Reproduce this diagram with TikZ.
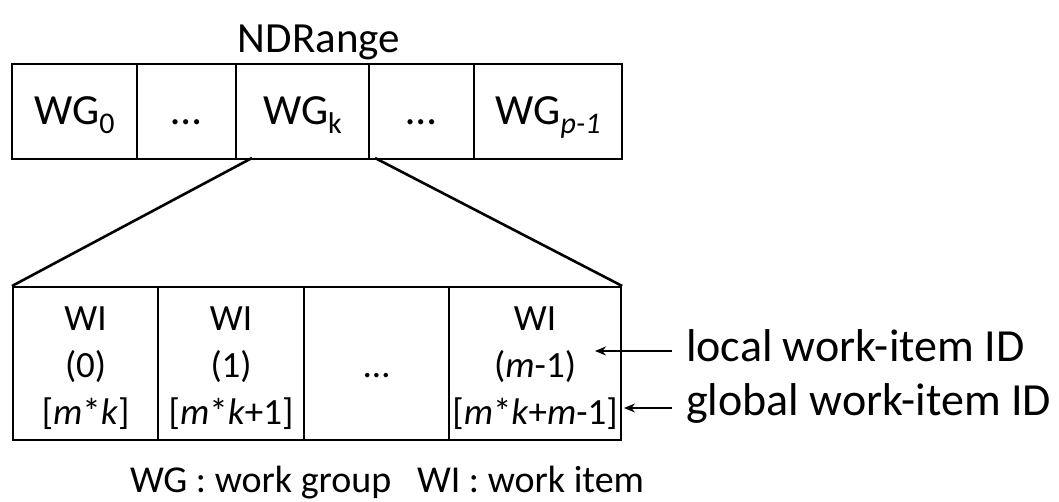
\documentclass[tikz,border=0pt]{standalone}
\usepackage{fontspec}
\setmainfont{Carlito}
\usetikzlibrary{arrows.meta}

% lowered, smaller index after "WG"
\newcommand\wgidx[1]{\raisebox{-9pt}{\fontsize{30}{30}\selectfont #1}}

\tikzset{
  cell/.style={draw, line width=2.2pt, inner sep=0pt, anchor=north west,
               align=center},
  groupcell/.style={cell, minimum height=95pt,
               font=\fontsize{43}{50}\selectfont,
               text height=31pt, text depth=6pt},
  itemcell/.style={cell, minimum height=153pt,
               font=\fontsize{37}{47}\selectfont,
               text height=127pt, text depth=6pt},
  zoomline/.style={line width=2.6pt},
  ptr/.style={line width=2pt, -{Stealth[length=11pt,width=9pt]}},
  lbl/.style={inner sep=0pt, font=\fontsize{46}{50}\selectfont},
}

\begin{document}
\begin{tikzpicture}[x=1pt,y=-1pt]
  \useasboundingbox (0,0) rectangle (1059,502);

  % title
  \node[inner sep=0pt, anchor=base, font=\fontsize{43}{50}\selectfont]
    (title) at (319,53) {NDRange};

  % work groups of the NDRange
  \node[groupcell, minimum width=125pt] (wg0) at (11,63)  {WG\wgidx{0}};
  \node[groupcell, minimum width=99pt]  (wgd1) at (136,63) {…};
  \node[groupcell, minimum width=133pt] (wgk) at (235,63) {WG\wgidx{k}};
  \node[groupcell, minimum width=105pt] (wgd2) at (368,63) {…};
  \node[groupcell, minimum width=148pt] (wgp) at (473,63)
    {WG\wgidx{\textit{p-1}}};

  % work items of group k
  \node[itemcell, minimum width=145pt] (wi0) at (12,286)
    {WI\\(0)\\{[}\textit{m}*\textit{k}{]}};
  \node[itemcell, minimum width=146pt] (wi1) at (157,286)
    {WI\\(1)\\{[}\textit{m}*\textit{k}+1{]}};
  \node[itemcell, minimum width=145pt] (wid) at (303,286)
    {\strut\\…\\\strut};
  \node[itemcell, minimum width=172pt] (wim) at (448,286)
    {WI\\(\textit{m}-1)\\{[}\textit{m}*\textit{k}+\textit{m}-1{]}};

  % expansion of WG_k into its work items
  \coordinate (kleft)  at (252,158);
  \coordinate (kright) at (375,158);
  \draw[zoomline] (kleft) -- (wi0.north west);
  \draw[zoomline] (kright) -- (wim.north east);

  % id labels
  \node[lbl, anchor=base west] (loc)  at (686,361) {local work-item ID};
  \node[lbl, anchor=base west] (glob) at (686,415) {global work-item ID};
  \coordinate (loctip)  at (595,351);
  \coordinate (globtip) at (624,408);
  \draw[ptr] ([xshift=-14pt]loc.west |- loctip) -- (loctip);
  \draw[ptr] ([xshift=-14pt]glob.west |- globtip) -- (globtip);

  % legend
  \node[inner sep=0pt, anchor=base, font=\fontsize{38}{44}\selectfont]
    (legend) at (387,492) {WG : work group \ \ WI : work item};
\end{tikzpicture}
\end{document}
